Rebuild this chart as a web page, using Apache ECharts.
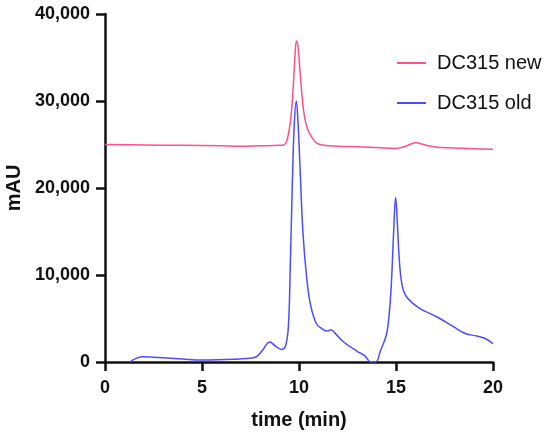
<!DOCTYPE html>
<html>
<head>
<meta charset="utf-8">
<script src="https://cdn.jsdelivr.net/npm/echarts@6/dist/echarts.min.js"></script>
<style>
html, body { margin: 0; padding: 0; background: #fff; }
#chart { width: 550px; height: 436px; }
</style>
</head>
<body>
<div id="chart"></div>
<script>
var newTimes = [0, 2, 4, 6, 7, 8, 9, 9.2, 9.35, 9.5, 9.6, 9.7, 9.8, 9.87, 9.95, 10.05, 10.18, 10.3, 10.47, 10.7, 10.9, 11.2, 12, 13, 14, 15, 15.5, 16, 16.5, 17, 18, 19, 20];
var newValues = [25000, 24950, 24900, 24850, 24800, 24850, 24900, 24950, 25300, 26800, 28500, 31500, 35500, 36900, 36200, 33500, 30000, 28000, 26600, 25700, 25200, 24950, 24800, 24750, 24650, 24550, 24800, 25200, 24950, 24700, 24600, 24500, 24450];

var oldTimes = [1.29, 1.5, 1.9, 2.5, 3.2, 4, 4.9, 5.8, 6.6, 7.3, 7.8, 8.1, 8.5, 8.8, 9.1, 9.3, 9.45, 9.55, 9.65, 9.75, 9.86, 9.95, 10.05, 10.2, 10.4, 10.6, 10.9, 11.2, 11.45, 11.65, 11.9, 12.3, 13, 13.4, 13.7, 13.95, 14.2, 14.5, 14.65, 14.77, 14.88, 14.98, 15.08, 15.16, 15.3, 15.54, 16.2, 17.1, 18, 18.6, 19.15, 19.6, 20];
var oldValues = [0, 300, 600, 550, 460, 350, 230, 250, 310, 400, 600, 1300, 2300, 1800, 1450, 1800, 4000, 11000, 20000, 27000, 30000, 27500, 22500, 15000, 9600, 6500, 4400, 3800, 3550, 3700, 3200, 2300, 1230, 700, 0, 0, 1300, 3100, 5500, 9400, 15000, 18900, 15500, 12100, 9000, 7500, 6200, 5200, 4000, 3250, 3000, 2700, 2100];

var xTicks = [0, 5, 10, 15, 20];
var yTicks = [0, 10000, 20000, 30000, 40000];

function pairs(xs, ys) {
    return xs.map(function (x, i) { return [x, ys[i]]; });
}

var chart = echarts.init(document.getElementById('chart'));
var axisFont = 'Liberation Sans, Arial, sans-serif';
var option = {
    animation: false,
    grid: { left: 105, right: 57, top: 14, bottom: 74, outerBoundsMode: 'none', containLabel: false },
    legend: {
        orient: 'vertical',
        left: 392,
        top: 48,
        icon: 'rect',
        itemWidth: 29,
        itemHeight: 2,
        itemGap: 20,
        textStyle: { fontSize: 20, color: '#111', fontFamily: axisFont, padding: [0, 0, 0, 6] },
        data: ['DC315 new', 'DC315 old']
    },
    xAxis: {
        type: 'value',
        min: xTicks[0],
        max: xTicks[xTicks.length - 1],
        interval: 5,
        name: 'time (min)',
        nameLocation: 'middle',
        nameGap: 48,
        nameTextStyle: { fontSize: 20, fontWeight: 'bold', color: '#111', fontFamily: axisFont },
        axisLine: { lineStyle: { color: '#111', width: 2.5 } },
        axisTick: { show: true, inside: false, length: 9, lineStyle: { color: '#111', width: 2.5 } },
        axisLabel: { fontSize: 18, fontWeight: 'bold', color: '#111', margin: 17, fontFamily: axisFont },
        splitLine: { show: false }
    },
    yAxis: {
        type: 'value',
        min: yTicks[0],
        max: yTicks[yTicks.length - 1],
        interval: 10000,
        name: 'mAU',
        nameLocation: 'middle',
        nameGap: 79,
        nameTextStyle: { fontSize: 20, fontWeight: 'bold', color: '#111', fontFamily: axisFont },
        axisLine: { show: true, lineStyle: { color: '#111', width: 2.5 } },
        axisTick: { show: true, inside: false, length: 9, lineStyle: { color: '#111', width: 2.5 } },
        axisLabel: {
            fontSize: 18, fontWeight: 'bold', color: '#111', margin: 15, fontFamily: axisFont,
            formatter: function (v) { return v.toLocaleString('en-US'); }
        },
        splitLine: { show: false }
    },
    series: [
        {
            name: 'DC315 new',
            type: 'line',
            data: pairs(newTimes, newValues),
            symbol: 'none',
            smooth: 0.4,
            lineStyle: { color: '#ff4f8f', width: 1.5 },
            itemStyle: { color: '#ff4f8f' }
        },
        {
            name: 'DC315 old',
            type: 'line',
            data: pairs(oldTimes, oldValues),
            symbol: 'none',
            smooth: 0.4,
            lineStyle: { color: '#4d4dff', width: 1.5 },
            itemStyle: { color: '#4d4dff' }
        }
    ]
};
chart.setOption(option);
</script>
</body>
</html>
